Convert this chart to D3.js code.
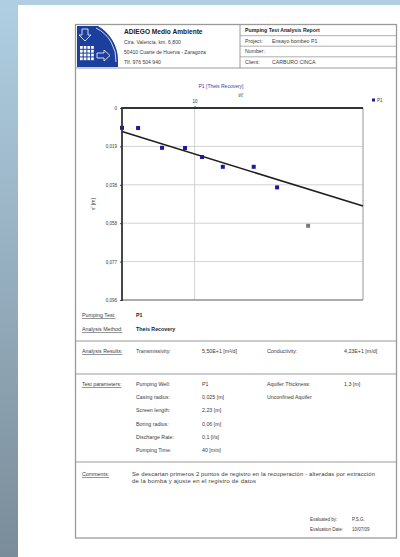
<!DOCTYPE html>
<html><head><meta charset="utf-8">
<script src="https://cdn.jsdelivr.net/npm/d3@7"></script>
<style>
body{margin:0;padding:0;overflow:hidden;background:#fff}
svg{display:block;font-family:"Liberation Sans",Arial,sans-serif}
</style></head>
<body>
<script>
// ---- data ----
const tRatio   = [5.0, 5.83, 7.33, 9.13, 10.74, 13.1, 17.6, 22.0, 29.6];
const drawdown = [0.0099, 0.0100, 0.0199, 0.0200, 0.0245, 0.0294, 0.0294, 0.0397, 0.0589];
const pointUsed = [true, true, true, true, true, true, true, true, false];
const fitT = [5, 50];
const fitS = [0.0118, 0.049];
const xTickValues = [10];
const xTickLabels = ["10"];
const yTickValues = [0, 0.0192, 0.0384, 0.0576, 0.0768, 0.096];
const yTickLabels = ["0", "0,019", "0,038", "0,058", "0,077", "0,096"];

const headerLeft = ["Ctra. Valencia, km. 6,800", "50410 Cuarte de Huerva - Zaragoza", "Tlf. 976 504 940"];
const headerRight = [["Project:", "Ensayo bombeo P1"], ["Number:", ""], ["Client:", "CARBURO CINCA"]];
const paramNames = ["Pumping Well:", "Casing radius:", "Screen length:", "Boring radius:", "Discharge Rate:", "Pumping Time:"];
const paramValues = ["P1", "0,025 [m]", "2,23 [m]", "0,06 [m]", "0,1 [l/s]", "40 [min]"];
const commentLines = ["Se descartan primeros 2 puntos de registro en la recuperación - alteradas por extracción",
                      "de la bomba y ajuste en el registro de datos"];

(function(){
const W = 400, H = 557;
const svg = d3.select("body").append("svg").attr("width", W).attr("height", H);

// background
const defs = svg.append("defs");
const g1 = defs.append("linearGradient").attr("id","bg").attr("x1",0).attr("y1",0).attr("x2",0).attr("y2",1);
g1.append("stop").attr("offset","0%").attr("stop-color","#b0cfe3");
g1.append("stop").attr("offset","100%").attr("stop-color","#7a8c99");
svg.append("rect").attr("width",W).attr("height",H).attr("fill","url(#bg)");
svg.append("rect").attr("x",18).attr("y",5).attr("width",W-18).attr("height",H-5).attr("fill","#fff");

const txt = "#3a3a3a", lineC = "#9a9a9a";

// document outer box
svg.append("rect").attr("x",75.5).attr("y",24.5).attr("width",321).attr("height",513.5)
  .attr("fill","none").attr("stroke",lineC).attr("stroke-width",1.3);

// header
svg.append("line").attr("x1",75).attr("x2",397).attr("y1",68).attr("y2",68).attr("stroke",lineC).attr("stroke-width",1.2);
svg.append("line").attr("x1",240).attr("x2",240).attr("y1",24).attr("y2",68).attr("stroke",lineC).attr("stroke-width",1);
[35.7, 46.2, 56.8].forEach(yy => svg.append("line").attr("x1",240).attr("x2",397).attr("y1",yy).attr("y2",yy).attr("stroke",lineC).attr("stroke-width",0.8));

// logo
const logo = svg.append("g");
logo.append("rect").attr("x",77).attr("y",26).attr("width",41).attr("height",41).attr("fill","#1c3f9e");
logo.append("path").attr("d","M98,26 L118,26 L118,60 A40,40 0 0 0 98,26 Z").attr("fill","#fff");
logo.append("path").attr("d","M96,28 A36,36 0 0 1 116,62").attr("fill","none").attr("stroke","#fff").attr("stroke-width",0.8);
logo.append("path").attr("d","M82,29 L88,29 L88,35 L91,35 L85,41 L79,35 L82,35 Z").attr("fill","none").attr("stroke","#fff").attr("stroke-width",0.8);
for (let i=0;i<4;i++) for (let j=0;j<4;j++)
  logo.append("rect").attr("x",80+i*3.7).attr("y",46+j*3.8).attr("width",2.7).attr("height",2.8).attr("fill","#fff");
logo.append("path").attr("d","M97,53 L104,53 L104,50 L110,55.5 L104,61 L104,58 L97,58 Z").attr("fill","none").attr("stroke","#fff").attr("stroke-width",0.8);

svg.append("text").attr("x",124).attr("y",33.5).attr("font-size",6.6).attr("font-weight","bold").attr("fill","#222").text("ADIEGO Medio Ambiente");
headerLeft.forEach((s,i) => svg.append("text").attr("x",124).attr("y",44+i*10).attr("font-size",5.1).attr("fill",txt).text(s));
svg.append("text").attr("x",245).attr("y",32).attr("font-size",5.2).attr("font-weight","bold").attr("fill","#222").text("Pumping Test Analysis Report");
headerRight.forEach((r,i) => {
  svg.append("text").attr("x",245).attr("y",42.6+i*10.5).attr("font-size",5.2).attr("fill",txt).text(r[0]);
  svg.append("text").attr("x",272).attr("y",42.6+i*10.5).attr("font-size",5.2).attr("fill",txt).text(r[1]);
});

// ---- chart ----
const pLeft = 122, pRight = 363, pTop = 108, pBottom = 300;
const x = d3.scaleLog().domain([5, 50]).range([pLeft, pRight]);
const y = d3.scaleLinear().domain([0, 0.096]).range([pTop, pBottom]);

svg.append("text").attr("x",221).attr("y",88).attr("text-anchor","middle").attr("font-size",5).attr("fill","#3344b0").text("P1 [Theis Recovery]");
svg.append("text").attr("x",241).attr("y",97).attr("text-anchor","middle").attr("font-size",5).attr("fill",txt).text("t/t'");

// gridlines
svg.append("g").selectAll("line").data(yTickValues.slice(1,-1)).join("line")
  .attr("x1",pLeft).attr("x2",pRight).attr("y1",d=>y(d)).attr("y2",d=>y(d))
  .attr("stroke","#c8c8c8").attr("stroke-width",0.8);
svg.append("g").selectAll("line").data(xTickValues).join("line")
  .attr("x1",d=>x(d)).attr("x2",d=>x(d)).attr("y1",pTop).attr("y2",pBottom)
  .attr("stroke","#c8c8c8").attr("stroke-width",0.8);

// right & bottom borders (light)
svg.append("line").attr("x1",pRight).attr("x2",pRight).attr("y1",pTop).attr("y2",pBottom).attr("stroke","#a8a8a8").attr("stroke-width",1.2);
svg.append("line").attr("x1",pLeft).attr("x2",pRight).attr("y1",pBottom).attr("y2",pBottom).attr("stroke","#909090").attr("stroke-width",1.5);

// axes
const yAxis = d3.axisLeft(y).tickValues(yTickValues).tickFormat((d,i)=>yTickLabels[i]).tickSize(2);
const ya = svg.append("g").attr("transform",`translate(${pLeft},0)`).call(yAxis);
ya.select(".domain").remove();
ya.selectAll("text").attr("font-size",4.5).attr("fill",txt).attr("font-family","Liberation Sans, Arial, sans-serif");
ya.selectAll("line").attr("stroke","#444");

const xAxis = d3.axisTop(x).tickValues(xTickValues).tickFormat((d,i)=>xTickLabels[i]).tickSize(2);
const xa = svg.append("g").attr("transform",`translate(0,${pTop})`).call(xAxis);
xa.select(".domain").remove();
xa.selectAll("text").attr("font-size",4.5).attr("fill",txt).attr("font-family","Liberation Sans, Arial, sans-serif");
xa.selectAll("line").attr("stroke","#444");

svg.append("text").attr("transform",`translate(95,${(pTop+pBottom)/2}) rotate(-90)`).attr("text-anchor","middle")
  .attr("font-size",5).attr("fill",txt).text("s' [m]");

// fit line
svg.append("line").attr("x1",x(fitT[0])).attr("y1",y(fitS[0])).attr("x2",x(fitT[1])).attr("y2",y(fitS[1]))
  .attr("stroke","#1e1e1e").attr("stroke-width",1.6);

// points
const pts = tRatio.map((t,i)=>({t, s:drawdown[i], used:pointUsed[i]}));
svg.append("g").selectAll("rect").data(pts).join("rect")
  .attr("x",d=>x(d.t)-2).attr("y",d=>y(d.s)-2).attr("width",4).attr("height",4)
  .attr("fill",d=>d.used?"#1a1a9c":"#7a7a7a");

// dark top & left frame
svg.append("line").attr("x1",pLeft).attr("x2",pRight).attr("y1",pTop).attr("y2",pTop).attr("stroke","#333").attr("stroke-width",1.8);
svg.append("line").attr("x1",pLeft).attr("x2",pLeft).attr("y1",pTop-1).attr("y2",pBottom+1).attr("stroke","#333").attr("stroke-width",1.8);

// legend
svg.append("rect").attr("x",372).attr("y",98.5).attr("width",3).attr("height",3).attr("fill","#1a1a9c");
svg.append("text").attr("x",377).attr("y",101.5).attr("font-size",4.5).attr("fill",txt).text("P1");

// ---- lower sections ----
function label(xp, yp, s, opts={}) {
  const t = svg.append("text").attr("x",xp).attr("y",yp).attr("font-size",opts.size||5.3).attr("fill",opts.fill||txt).text(s);
  if (opts.bold) t.attr("font-weight","bold");
  if (opts.u) t.attr("text-decoration","underline");
  if (opts.len) t.attr("textLength",opts.len).attr("lengthAdjust","spacing");
  return t;
}
label(82,317,"Pumping Test:",{u:true});
label(136,317,"P1",{bold:true,fill:"#222"});
label(82,331,"Analysis Method:",{u:true});
label(136,331,"Theis Recovery",{bold:true,fill:"#222"});

[341, 374, 462].forEach(yy => svg.append("line").attr("x1",75).attr("x2",397).attr("y1",yy).attr("y2",yy).attr("stroke",lineC).attr("stroke-width",1.2));

label(82,353,"Analysis Results:",{u:true});
label(136,353,"Transmissivity:");
label(202,353,"5,50E+1 [m²/d]");
label(267,353,"Conductivity:");
label(344,353,"4,23E+1 [m/d]");

label(82,386,"Test parameters:",{u:true});
paramNames.forEach((s,i)=>{ label(136,386+i*13.2,s); label(202,386+i*13.2,paramValues[i]); });
label(267,386,"Aquifer Thickness:");
label(344,386,"1,3 [m]");
label(267,399.2,"Unconfined Aquifer");

label(82,476,"Comments:",{u:true});
label(132,476,commentLines[0],{size:5.9,len:243});
label(132,482.5,commentLines[1],{size:5.9,len:124});

label(310,521,"Evaluated by:",{size:4.5});
label(352,521,"P.S.G.",{size:4.5});
label(310,531,"Evaluation Date:",{size:4.5});
label(352,531,"10/07/09",{size:4.5});
})();
</script>
</body></html>
